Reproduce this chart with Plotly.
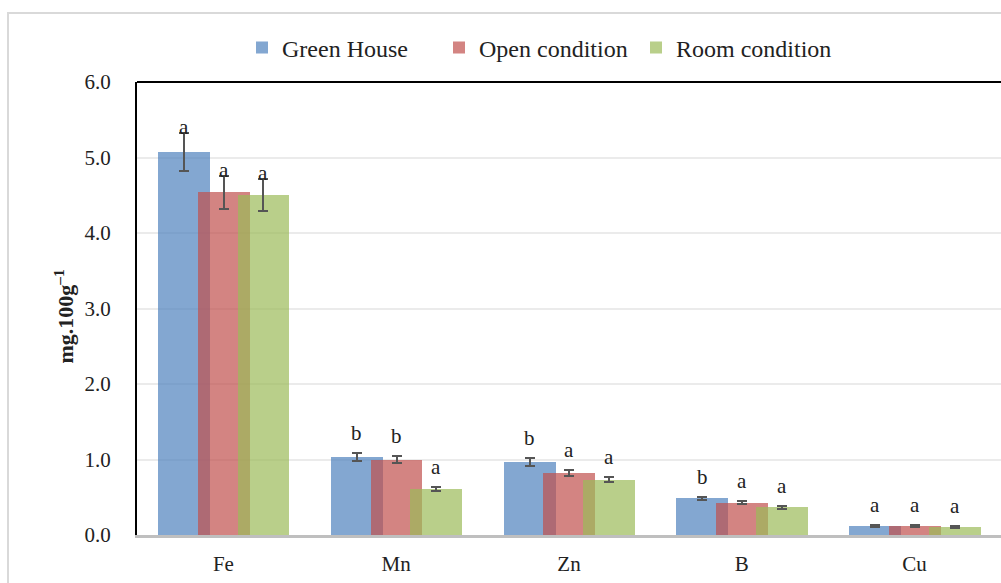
import plotly.graph_objects as go

categories = ["Fe", "Mn", "Zn", "B", "Cu"]
series_names = ["Green House", "Open condition", "Room condition"]
green_house = [5.07, 1.035, 0.97, 0.49, 0.12]
open_condition = [4.54, 1.00, 0.82, 0.43, 0.12]
room_condition = [4.50, 0.61, 0.73, 0.37, 0.11]
gh_err = [0.25, 0.05, 0.05, 0.02, 0.015]
open_err = [0.22, 0.05, 0.045, 0.02, 0.015]
room_err = [0.21, 0.03, 0.033, 0.02, 0.015]
gh_letters = ["a", "b", "b", "b", "a"]
open_letters = ["a", "b", "a", "a", "a"]
room_letters = ["a", "a", "a", "a", "a"]
y_ticks = [0, 1, 2, 3, 4, 5, 6]
y_tick_labels = ["0.0", "1.0", "2.0", "3.0", "4.0", "5.0", "6.0"]

values = [green_house, open_condition, room_condition]
errors = [gh_err, open_err, room_err]
letters = [gh_letters, open_letters, room_letters]
colors = ["rgba(79,129,189,0.7)", "rgba(192,80,77,0.7)", "rgba(155,187,89,0.7)"]
offsets = [-0.378, -0.148, 0.082]
bar_w = 0.30

FONT = "Liberation Serif"
TXT = "#222222"

fig = go.Figure()
xs = list(range(len(categories)))
for k in range(3):
    fig.add_trace(go.Bar(
        x=xs, y=values[k], name=series_names[k],
        marker=dict(color=colors[k], line=dict(width=0)),
        width=bar_w, offset=offsets[k],
        error_y=dict(type="data", array=errors[k], visible=True,
                     color="#555555", thickness=2, width=5),
    ))

annotations = []
for k in range(3):
    for i in xs:
        shift = 6 if categories[i] == "Fe" else 20
        annotations.append(dict(
            x=i + offsets[k] + bar_w / 2, y=values[k][i] + errors[k][i],
            xref="x", yref="y", text=letters[k][i], showarrow=False,
            yshift=shift, font=dict(family=FONT, size=21, color=TXT),
        ))

W, H = 1001, 583
L, R, T, B = 137, 0, 82, 48
pw, ph = W - L - R, H - T - B
annotations.append(dict(
    x=(47 - L) / pw, y=0.5 - 8 / ph, xref="paper", yref="paper",
    text="<b>mg.100g<sup>–1</sup></b>",
    textangle=-90, showarrow=False, font=dict(family=FONT, size=22, color=TXT),
))

shapes = [
    dict(type="line", xref="paper", yref="paper", x0=0, x1=1, y0=1, y1=1,
         line=dict(color="black", width=2)),
    dict(type="rect", xref="paper", yref="paper",
         x0=(8 - L) / pw, x1=1.2, y0=-0.3, y1=1 + (T - 13) / ph,
         line=dict(color="#D9D9D9", width=2), layer="below"),
]

fig.update_layout(
    width=W, height=H,
    margin=dict(l=L, r=R, t=T, b=B, pad=0, autoexpand=False),
    paper_bgcolor="white", plot_bgcolor="white",
    barmode="overlay", bargap=0,
    showlegend=True,
    legend=dict(orientation="h", xref="container", yref="container",
                x=242 / W, xanchor="left",
                y=1 - 48 / H, yanchor="middle",
                font=dict(family=FONT, size=24, color=TXT),
                entrywidth=152, entrywidthmode="pixels",
                itemwidth=30, bgcolor="rgba(0,0,0,0)"),
    xaxis=dict(range=[-0.5, 4.5], tickmode="array", tickvals=xs, ticktext=categories,
               showline=True, linecolor="#BFBFBF", linewidth=3, ticks="",
               showgrid=False, zeroline=False, ticklabelstandoff=8, automargin=False,
               tickfont=dict(family=FONT, size=21, color=TXT)),
    yaxis=dict(range=[0, 6], tickmode="array", tickvals=y_ticks, ticktext=y_tick_labels,
               showline=True, linecolor="black", linewidth=2, ticks="",
               showgrid=True, gridcolor="#EBEBEB", gridwidth=2, zeroline=False,
               ticklabelstandoff=20, automargin=False,
               tickfont=dict(family=FONT, size=21, color=TXT)),
    annotations=annotations, shapes=shapes,
)

fig.write_html("out.html", config={"displayModeBar": False},
               post_script="document.body.style.margin='0';document.body.style.overflow='hidden';")
